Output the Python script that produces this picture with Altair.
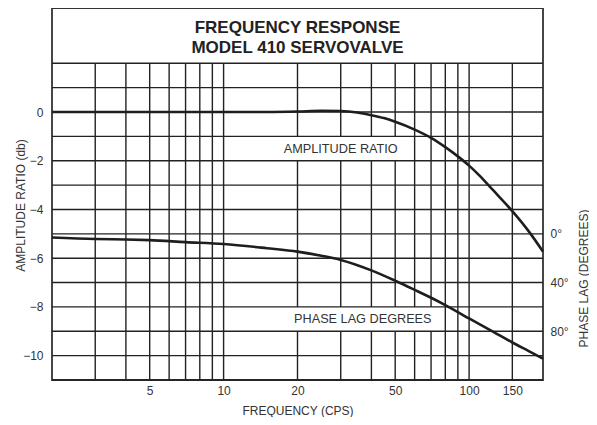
import altair as alt
import pandas as pd

# ---- data ----
freq_amp = [2, 5, 10, 15, 20, 25, 30, 35, 40, 45, 50, 60, 70, 80, 90, 100, 110, 125, 150, 175, 200]
amp_db = [0, 0, 0, 0, 0.02, 0.05, 0.04, -0.02, -0.13, -0.25, -0.4, -0.72, -1.06, -1.44, -1.82,
          -2.2, -2.6, -3.2, -4.07, -4.9, -5.73]
freq_phase = [2, 3, 4, 5, 7, 10, 15, 20, 25, 30, 40, 50, 60, 70, 80, 100, 125, 150, 175, 200]
phase_deg = [3, 4.2, 4.6, 5.2, 6.8, 8.4, 11.8, 14.6, 18, 21.4, 30, 38.5, 46, 52.5, 58.5, 69.5,
             80.2, 89.2, 96.3, 102.5]

grid_freqs = [3, 4, 5, 6, 7, 8, 9, 10, 20, 30, 40, 50, 60, 70, 80, 90, 100, 150]
grid_db = list(range(-11, 3))
x_tick_labels = [5, 10, 20, 50, 100, 150]
y_tick_labels = [0, -2, -4, -6, -8, -10]
phase_tick_labels = [0, 40, 80]
title_lines = ["FREQUENCY RESPONSE", "MODEL 410 SERVOVALVE"]
curve_labels = ["AMPLITUDE RATIO", "PHASE LAG DEGREES"]

# ---- layout constants ----
F_MIN, F_MAX = 2, 200
DB_MIN, DB_TOP, DB_GRID_TOP = -11, 4.27, 2
PH_TOP = 20 * (-5 - DB_TOP)   # phase axis: 0 deg on -5 dB, 20 deg per dB
PH_BOT = 20 * (-5 - DB_MIN)
W, H = 491, 372
FONT = "Liberation Sans"
INK = "#1e1e1e"
GRID = "#222222"

xscale = alt.Scale(type="log", domain=[F_MIN, F_MAX], nice=False)
yscale = alt.Scale(domain=[DB_MIN, DB_TOP], nice=False, zero=False)
pscale = alt.Scale(domain=[PH_TOP, PH_BOT], reverse=True, nice=False, zero=False)

XT = "FREQUENCY (CPS)"
YT = "AMPLITUDE RATIO (db)"

x_axis = alt.Axis(values=x_tick_labels, grid=False, domain=False, ticks=False,
                  labelFontSize=12, labelPadding=5, labelColor="#333",
                  titleFontSize=12, titleFontWeight="normal", titleColor="#333",
                  titlePadding=9, labelFont=FONT, titleFont=FONT)
y_axis = alt.Axis(values=y_tick_labels, grid=False, domain=False, ticks=False,
                  labelFontSize=12, labelPadding=9, labelColor="#333",
                  titleFontSize=12, titleFontWeight="normal", titleColor="#333",
                  titleX=-32, titleY=197, titleAlign="center", titleBaseline="middle",
                  titleAngle=270, labelFont=FONT, titleFont=FONT)
p_axis = alt.Axis(orient="right", values=phase_tick_labels, labelExpr="datum.value + '°'",
                  grid=False, domain=False, ticks=False, labelFontSize=12, labelPadding=7,
                  labelColor="#333", titleFontSize=12, titleFontWeight="normal",
                  titleColor="#333", titleX=40, titleY=270, titleAlign="center",
                  titleBaseline="middle", titleAngle=270, labelFont=FONT, titleFont=FONT)

amp_df = pd.DataFrame({"f": freq_amp, "db": amp_db})
ph_df = pd.DataFrame({"f": freq_phase, "p": phase_deg})
vgrid_df = pd.DataFrame({"f": grid_freqs, "lo": DB_MIN, "hi": DB_GRID_TOP})
hgrid_df = pd.DataFrame({"db": grid_db})
box_df = pd.DataFrame({"f1": [16, 18], "f2": [54, 75], "d1": [-1, -8], "d2": [-2, -9]})
lab_df = pd.DataFrame({"f": [30, 36.9], "db": [-1.5, -8.5], "t": curve_labels})

vgrid = alt.Chart(vgrid_df).mark_rule(color=GRID, strokeWidth=1.4).encode(
    x=alt.X("f:Q", scale=xscale, title=XT),
    y=alt.Y("lo:Q", scale=yscale, title=YT), y2="hi:Q")

boxes = alt.Chart(box_df).mark_rect(color="white").encode(
    x=alt.X("f1:Q", scale=xscale, title=XT), x2="f2:Q",
    y=alt.Y("d1:Q", scale=yscale, title=YT), y2="d2:Q")

hgrid = alt.Chart(hgrid_df).mark_rule(color=GRID, strokeWidth=1.4).encode(
    y=alt.Y("db:Q", scale=yscale, title=YT))

labels = alt.Chart(lab_df).mark_text(font=FONT, fontSize=12.7, color="#333",
                                     baseline="middle", align="center").encode(
    x=alt.X("f:Q", scale=xscale, title=XT),
    y=alt.Y("db:Q", scale=yscale, title=YT), text="t:N")

title = alt.Chart(pd.DataFrame({"k": [0]})).mark_text(
    text=title_lines, font=FONT, fontSize=17, fontWeight="bold", color="#222",
    lineHeight=20, baseline="middle", align="center").encode(
    x=alt.value(W / 2), y=alt.value(19.5))

amp = alt.Chart(amp_df).mark_line(color=INK, strokeWidth=2.6, interpolate="monotone").encode(
    x=alt.X("f:Q", scale=xscale, axis=x_axis, title=XT),
    y=alt.Y("db:Q", scale=yscale, axis=y_axis, title=YT))

phase = alt.Chart(ph_df).mark_line(color=INK, strokeWidth=2.6, interpolate="monotone").encode(
    x=alt.X("f:Q", scale=xscale, title=XT),
    y=alt.Y("p:Q", scale=pscale, axis=p_axis, title="PHASE LAG (DEGREES)"))

inner = alt.layer(vgrid, boxes, hgrid, labels, title, amp)
chart = alt.layer(inner, phase).resolve_scale(y="independent").properties(
    width=W, height=H,
    autosize=alt.AutoSizeParams(type="none"),
    padding={"left": 44, "top": 0, "right": 46, "bottom": 37},
    background="white",
).configure_view(stroke="#333", strokeWidth=1.8)

chart.save("out.html", embed_options={"renderer": "svg", "actions": False})
